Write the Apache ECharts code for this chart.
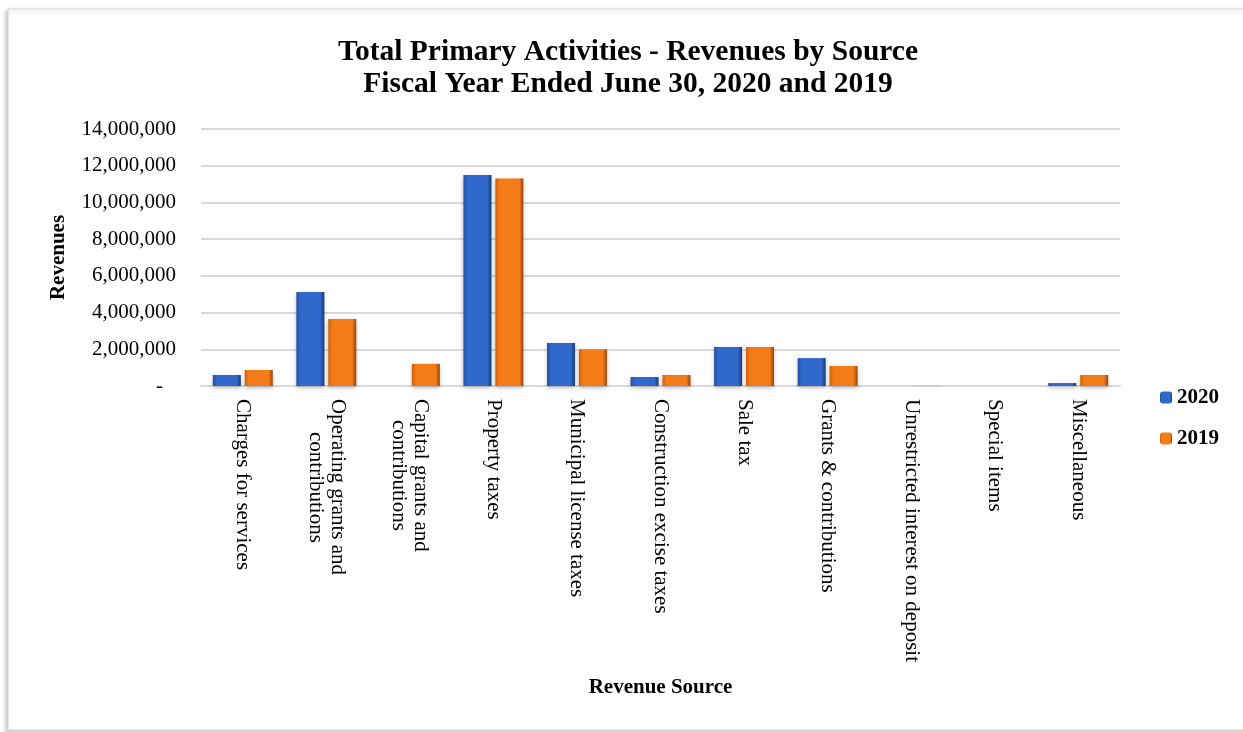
<!DOCTYPE html>
<html>
<head>
<meta charset="utf-8">
<script src="https://cdn.jsdelivr.net/npm/echarts@6/dist/echarts.min.js"></script>
<style>
  html, body { margin: 0; padding: 0; background: #ffffff; }
  #chart { width: 1243px; height: 732px; }
</style>
</head>
<body>
<div id="chart"></div>
<script>
// Revenue sources (categories on the x axis)
const categories = [
  'Charges for services',
  'Operating grants and\ncontributions',
  'Capital grants and\ncontributions',
  'Property taxes',
  'Municipal license taxes',
  'Construction excise taxes',
  'Sale tax',
  'Grants & contributions',
  'Unrestricted interest on deposit',
  'Special items',
  'Miscellaneous'
];

// Revenues by source, fiscal year 2020
const revenues2020 = [600000, 5120000, 0, 11490000, 2340000, 490000, 2120000, 1520000, 0, 0, 160000];

// Revenues by source, fiscal year 2019
const revenues2019 = [870000, 3650000, 1210000, 11310000, 2000000, 600000, 2120000, 1090000, 15000, 0, 600000];

// Value axis ticks
const yTicks = [0, 2000000, 4000000, 6000000, 8000000, 10000000, 12000000, 14000000];

const SERIF = "'Liberation Serif', 'Times New Roman', serif";
const LABEL_FONT = "21px 'Liberation Serif', 'Times New Roman', serif";

// Text width helper, used to centre the lines of wrapped category labels
const measureCtx = document.createElement('canvas').getContext('2d');
measureCtx.font = LABEL_FONT;
function textWidth(s) { return measureCtx.measureText(s).width; }

function centredLines(v) {
  const lines = v.split('\n');
  if (lines.length === 1) return '{c|' + v + '}';
  const widths = lines.map(textWidth);
  const maxW = Math.max.apply(null, widths);
  return lines.map(function (s, i) {
    const pad = Math.round((maxW - widths[i]) / 2);
    return pad > 0 ? '{p' + pad + '|' + s + '}' : '{c|' + s + '}';
  }).join('\n');
}

const labelRich = {
  c: { fontFamily: SERIF, fontSize: 21, lineHeight: 22, color: '#000000' }
};
categories.forEach(function (v) {
  const lines = v.split('\n');
  if (lines.length < 2) return;
  const widths = lines.map(textWidth);
  const maxW = Math.max.apply(null, widths);
  widths.forEach(function (w) {
    const pad = Math.round((maxW - w) / 2);
    if (pad > 0) {
      labelRich['p' + pad] = { fontFamily: SERIF, fontSize: 21, lineHeight: 22, color: '#000000', padding: [0, 0, 0, pad] };
    }
  });
});

function bevel(edgeL, mid, edgeR) {
  return new echarts.graphic.LinearGradient(0, 0, 1, 0, [
    { offset: 0, color: edgeL },
    { offset: 0.15, color: mid },
    { offset: 0.5, color: mid },
    { offset: 0.85, color: mid },
    { offset: 1, color: edgeR }
  ]);
}

const chart = echarts.init(document.getElementById('chart'), null, { renderer: 'canvas' });

const option = {
  backgroundColor: '#ffffff',
  animation: false,
  graphic: [{
    type: 'rect',
    z: -10,
    silent: true,
    shape: { x: 8, y: 9, width: 1250, height: 721 },
    style: {
      fill: '#ffffff',
      stroke: '#d6d6d6',
      lineWidth: 1,
      shadowColor: 'rgba(0,0,0,0.22)',
      shadowBlur: 4,
      shadowOffsetX: -2,
      shadowOffsetY: 2
    }
  }],
  title: {
    text: 'Total Primary Activities - Revenues by Source\nFiscal Year Ended June 30, 2020 and 2019',
    left: 628,
    top: 36,
    padding: 0,
    textAlign: 'center',
    textStyle: {
      fontFamily: SERIF,
      fontWeight: 'bold',
      fontSize: 29.5,
      lineHeight: 32,
      color: '#000000'
    }
  },
  legend: {
    orient: 'vertical',
    left: 1160,
    top: 387,
    padding: 0,
    itemWidth: 12,
    itemHeight: 12,
    itemGap: 20,
    textStyle: {
      fontFamily: SERIF,
      fontWeight: 'bold',
      fontSize: 21,
      lineHeight: 21,
      color: '#000000'
    },
    data: ['2020', '2019']
  },
  grid: {
    left: 201,
    right: 123,
    top: 129,
    bottom: 346,
    containLabel: false
  },
  xAxis: {
    type: 'category',
    data: categories,
    name: 'Revenue Source',
    nameLocation: 'middle',
    nameGap: 291,
    nameTextStyle: {
      fontFamily: SERIF,
      fontWeight: 'bold',
      fontSize: 21,
      color: '#000000'
    },
    axisLine: { show: true, lineStyle: { color: '#d9d9d9', width: 2 } },
    axisTick: { show: false },
    axisLabel: {
      interval: 0,
      rotate: -90,
      margin: 13,
      formatter: centredLines,
      rich: labelRich
    }
  },
  yAxis: {
    type: 'value',
    min: 0,
    max: 14000000,
    interval: 2000000,
    name: 'Revenues',
    nameLocation: 'middle',
    nameRotate: 90,
    nameGap: 132,
    nameTextStyle: {
      fontFamily: SERIF,
      fontWeight: 'bold',
      fontSize: 21,
      color: '#000000'
    },
    axisLine: { show: false },
    axisTick: { show: false },
    splitLine: { lineStyle: { color: '#d9d9d9', width: 2 } },
    axisLabel: {
      margin: 25,
      customValues: yTicks,
      formatter: function (v) {
        if (v === 0) return '{d|-}';
        return '{n|' + v.toLocaleString('en-US') + '}';
      },
      rich: {
        n: { fontFamily: SERIF, fontSize: 21, color: '#000000' },
        d: { fontFamily: SERIF, fontSize: 21, color: '#000000', padding: [0, 13, 0, 0] }
      }
    }
  },
  series: [
    {
      name: '2020',
      type: 'bar',
      data: revenues2020,
      barWidth: 28,
      barGap: '14%',
      itemStyle: {
        color: bevel('#24509f', '#3068cc', '#163878'),
        shadowColor: 'rgba(0,0,0,0.25)',
        shadowBlur: 4,
        shadowOffsetY: 2
      }
    },
    {
      name: '2019',
      type: 'bar',
      data: revenues2019,
      barWidth: 28,
      itemStyle: {
        color: bevel('#d0600c', '#f57b18', '#93460a'),
        shadowColor: 'rgba(0,0,0,0.25)',
        shadowBlur: 4,
        shadowOffsetY: 2
      }
    }
  ]
};

chart.setOption(option);
</script>
</body>
</html>
